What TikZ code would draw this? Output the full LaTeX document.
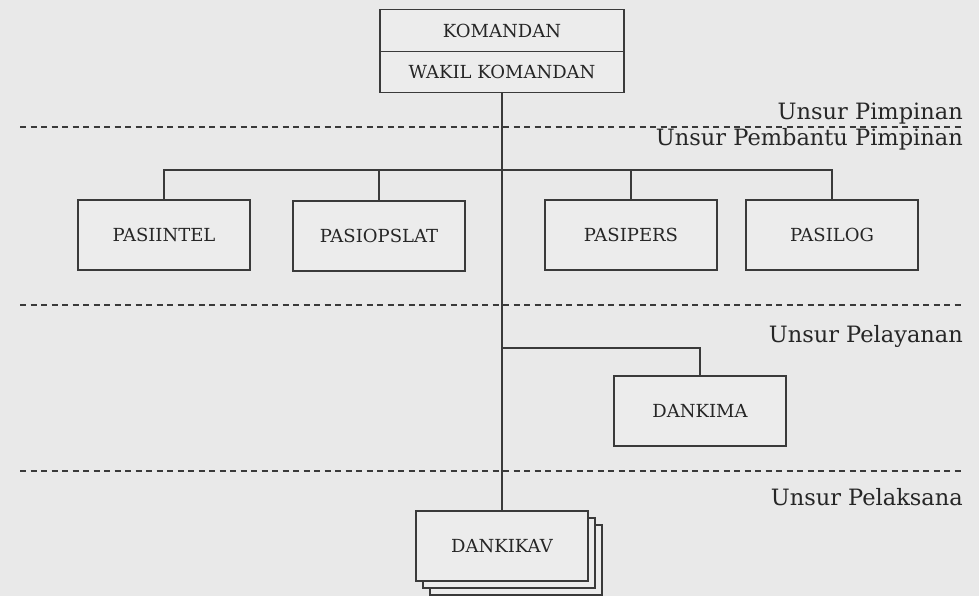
\documentclass[tikz,border=0pt]{standalone}
\usepackage{fontspec}
\setmainfont{DejaVu Serif}
\definecolor{bg}{HTML}{E9E9E9}
\definecolor{boxfill}{HTML}{ECECEC}
\definecolor{ink}{HTML}{3A3A3A}
\definecolor{txt}{HTML}{262626}
\begin{document}
\begin{tikzpicture}[x=1pt,y=-1pt,
  unit/.style={draw=ink,line width=1.4pt,fill=boxfill,minimum width=172pt,minimum height=70pt,inner sep=0pt,text=txt,font=\fontsize{18}{20}\selectfont},
  topbox/.style={draw=ink,line width=1.4pt,fill=boxfill,minimum width=244pt,minimum height=41.5pt,inner sep=0pt,text=txt,font=\fontsize{18}{20}\selectfont},
  link/.style={draw=ink,line width=1.4pt},
  sep/.style={draw=ink,line width=1.4pt,dash pattern=on 6pt off 4.5pt},
  lvl/.style={anchor=base east,inner sep=0pt,text=txt,font=\fontsize{22.5}{25}\selectfont}]
\fill[bg] (0,0) rectangle (979,596);
\useasboundingbox (0,0) rectangle (979,596);
\clip (0,0) rectangle (979,596);
% separators
\coordinate (d1a) at (20,127); \coordinate (d1b) at (965,127);
\coordinate (d2a) at (20,305); \coordinate (d2b) at (965,305);
\coordinate (d3a) at (20,471); \coordinate (d3b) at (965,471);
\draw[sep] (d1a) -- (d1b);
\draw[sep] (d2a) -- (d2b);
\draw[sep] (d3a) -- (d3b);
% level labels
\node[lvl] (l1) at (963,120) {Unsur Pimpinan};
\node[lvl] (l2) at (963,146) {Unsur Pembantu Pimpinan};
\node[lvl] (l3) at (963,342) {Unsur Pelayanan};
\node[lvl] (l4) at (963,505) {Unsur Pelaksana};
% top
\node[topbox] (kom) at (502,30.5) {KOMANDAN};
\node[topbox] (wakil) at (502,72) {WAKIL KOMANDAN};
% staff
\node[unit] (intel) at (164,235) {PASIINTEL};
\node[unit] (opslat) at (379,236) {PASIOPSLAT};
\node[unit] (pers) at (631,235) {PASIPERS};
\node[unit] (log) at (832,235) {PASILOG};
% service
\node[unit] (kima) at (700,411) {DANKIMA};
% executing (stacked)
\node[unit] (kikav3) at (516,560) {};
\node[unit] (kikav2) at (509,553) {};
\node[unit] (kikav) at (502,546) {DANKIKAV};
% connectors
\coordinate (bus) at (502,170);
\coordinate (kb) at (502,348);
\draw[link] (wakil.south) -- (kikav.north);
\draw[link] (intel.north) |- (bus) -| (log.north);
\draw[link] (opslat.north) -- (opslat.north |- bus);
\draw[link] (pers.north) -- (pers.north |- bus);
\draw[link] (kb) -| (kima.north);
\end{tikzpicture}
\end{document}
